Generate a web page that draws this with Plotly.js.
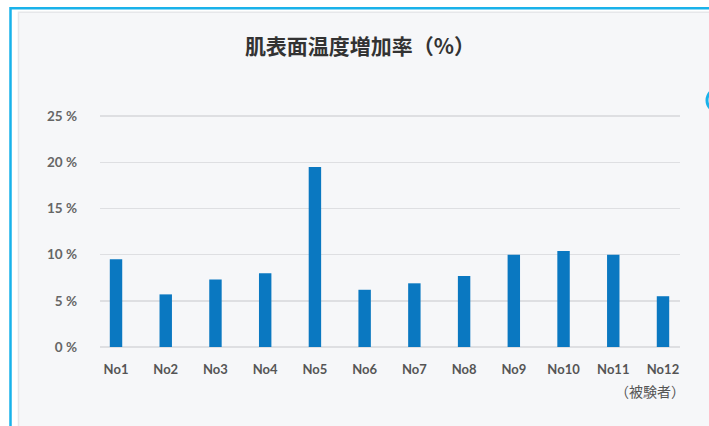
<!DOCTYPE html>
<html>
<head>
<meta charset="utf-8">
<script src="https://cdn.plot.ly/plotly-3.0.1.min.js"></script>
<style>html,body{margin:0;padding:0;background:#fff;}#chart{width:709px;height:426px;}</style>
</head>
<body>
<div id="chart"></div>
<script>
const categories = ["No1","No2","No3","No4","No5","No6","No7","No8","No9","No10","No11","No12"];
const increaseRate = [9.5, 5.7, 7.3, 8.0, 19.5, 6.2, 6.9, 7.7, 10.0, 10.4, 10.0, 5.5];
const yTickValues = [0, 5, 10, 15, 20, 25];
const yTickLabels = ["0 %", "5 %", "10 %", "15 %", "20 %", "25 %"];
const chartTitle = "肌表面温度増加率（%）";
const xNote = "（被験者）";

// pixel helpers for the decorative frame
const L = 100, R = 680, T = 116.5, B = 347.5;
const YMAX = 26;
const pxPerUnit = (B - T) / 25;
const TOP = B - YMAX * pxPerUnit;
const px = v => (v - L) / (R - L);
const py = v => (B - v) / (B - TOP);

const trace = {
  type: "bar",
  x: categories,
  y: increaseRate,
  width: 0.25,
  marker: {color: "#0a78c1"},
  hoverinfo: "x+y"
};

const layout = {
  width: 709, height: 426,
  margin: {l: L, r: 709 - R, t: TOP, b: 426 - B},
  paper_bgcolor: "#ffffff",
  plot_bgcolor: "rgba(0,0,0,0)",
  showlegend: false,
  title: {
    text: chartTitle,
    x: 360 / 709, xanchor: "center",
    y: 1 - 47 / 426, yanchor: "middle",
    font: {family: "Noto Sans CJK JP", size: 21, color: "#333333", weight: 700}
  },
  xaxis: {
    type: "category",
    range: [-0.322, 11.342],
    showgrid: false,
    zeroline: false,
    showline: false,
    ticks: "",
    ticklabelstandoff: 13,
    tickfont: {family: "Lato", size: 13, color: "#555555", weight: 700},
    fixedrange: true
  },
  yaxis: {
    range: [0, YMAX],
    tickvals: yTickValues,
    ticktext: yTickLabels,
    showgrid: true,
    gridcolor: "#dedfe2",
    gridwidth: 1.5,
    zeroline: true,
    zerolinecolor: "#dedfe2",
    zerolinewidth: 1.5,
    showline: false,
    ticks: "",
    ticklabelstandoff: 22,
    tickfont: {family: "Lato", size: 13.5, color: "#666666", weight: 700},
    fixedrange: true
  },
  shapes: [
    {type: "rect", xref: "paper", yref: "paper", layer: "below",
     x0: px(10.5), x1: px(760), y0: py(460), y1: py(8.5),
     line: {color: "#19b2ea", width: 2.5}, fillcolor: "#ffffff"},
    {type: "rect", xref: "paper", yref: "paper", layer: "below",
     x0: px(18.5), x1: px(760), y0: py(460), y1: py(12.5),
     line: {color: "#e6e7ea", width: 1.5}, fillcolor: "#f6f7f9"},
    {type: "circle", xref: "paper", yref: "paper", layer: "above",
     x0: px(707), x1: px(733), y0: py(113), y1: py(88),
     line: {color: "#19b2ea", width: 3}, fillcolor: "rgba(0,0,0,0)"}
  ],
  annotations: [
    {text: xNote, xref: "paper", yref: "paper",
     x: px(687), y: py(392), xanchor: "right", yanchor: "middle",
     showarrow: false,
     font: {family: "Noto Sans CJK JP", size: 14, color: "#555555"}}
  ]
};

Plotly.newPlot("chart", [trace], layout, {displayModeBar: false, staticPlot: true});
</script>
</body>
</html>
